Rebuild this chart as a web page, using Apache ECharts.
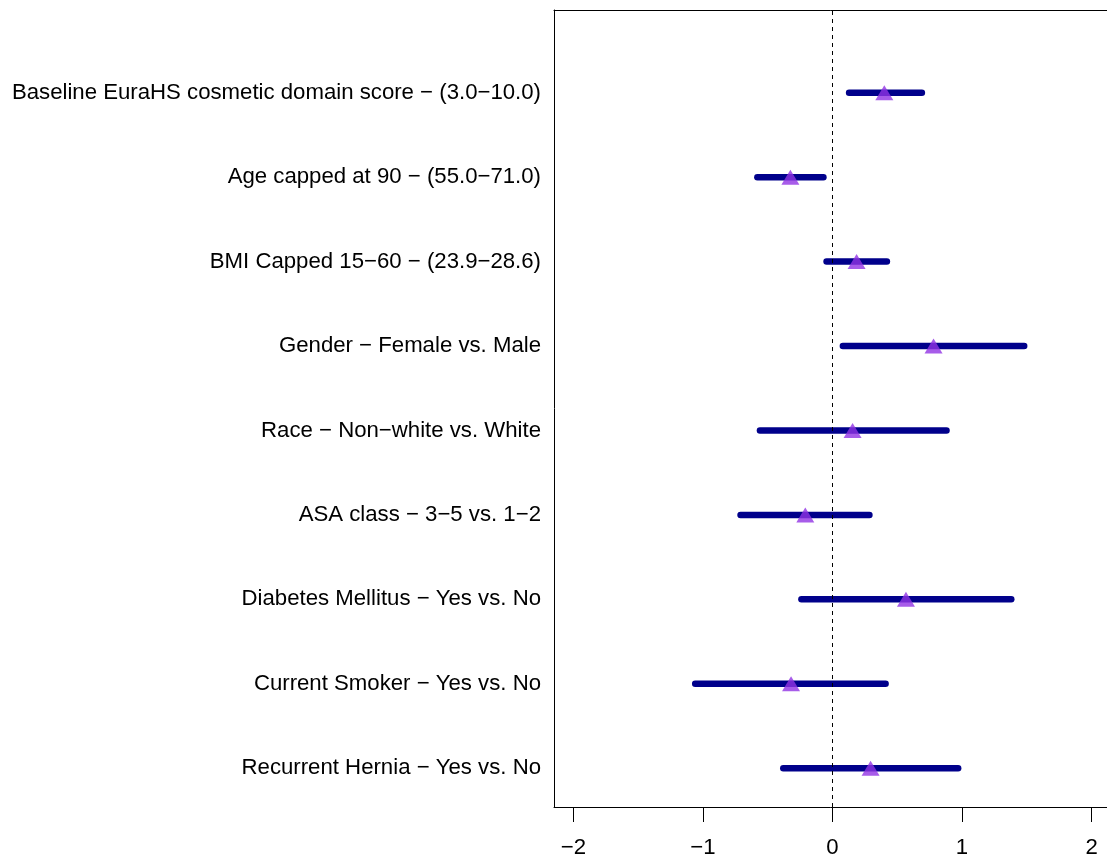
<!DOCTYPE html>
<html>
<head>
<meta charset="utf-8">
<script src="https://cdn.jsdelivr.net/npm/echarts@6/dist/echarts.min.js"></script>
<style>html,body{margin:0;padding:0;background:#fff;}#main{width:1107px;height:857px;}</style>
</head>
<body>
<div id="main"></div>
<script>
const categories = [
  "Baseline EuraHS cosmetic domain score - (3.0-10.0)",
  "Age capped at 90 - (55.0-71.0)",
  "BMI Capped 15-60 - (23.9-28.6)",
  "Gender - Female vs. Male",
  "Race - Non-white vs. White",
  "ASA class - 3-5 vs. 1-2",
  "Diabetes Mellitus - Yes vs. No",
  "Current Smoker - Yes vs. No",
  "Recurrent Hernia - Yes vs. No"
];
const estimates = [0.40, -0.325, 0.186, 0.78, 0.155, -0.21, 0.567, -0.32, 0.294];
const lowerCI  = [0.128, -0.58, -0.046, 0.08, -0.56, -0.71, -0.24, -1.06, -0.38];
const upperCI  = [0.69, -0.07, 0.42, 1.48, 0.88, 0.285, 1.38, 0.41, 0.97];
const xTicks = [-2, -1, 0, 1, 2];

const n = categories.length;
const rowPos = categories.map((c, i) => n - i);
const minus = s => String(s).replace(/-/g, '\u2212');
const labelByPos = {};
categories.forEach((c, i) => { labelByPos[rowPos[i]] = minus(c); });

const intervalData = categories.map((c, i) => [lowerCI[i], upperCI[i], rowPos[i]]);
const pointData = categories.map((c, i) => [estimates[i], rowPos[i]]);

const font = "'Liberation Sans', Arial, Helvetica, sans-serif";
const frameLine = {show: true, onZero: false, lineStyle: {color: '#000', width: 1}};
const chart = echarts.init(document.getElementById('main'), null, {renderer: 'canvas'});
chart.setOption({
  animation: false,
  backgroundColor: '#fff',
  grid: {left: 554, top: 10, bottom: 50, right: -4, show: false, outerBoundsMode: 'none', containLabel: false},
  xAxis: [{
    type: 'value', min: -2.15, max: 2.15, position: 'bottom',
    axisLine: frameLine,
    splitLine: {show: false},
    axisTick: {show: true, inside: false, length: 15, customValues: xTicks, lineStyle: {color: '#000', width: 1}},
    axisLabel: {customValues: xTicks, margin: 30, fontSize: 22.2, fontFamily: font, color: '#000', formatter: v => minus(v)}
  }, {
    type: 'value', min: -2.15, max: 2.15, position: 'top',
    axisLine: frameLine, axisTick: {show: false}, axisLabel: {show: false}, splitLine: {show: false}
  }],
  yAxis: {
    type: 'value', min: 0.54, max: 9.98, position: 'left',
    axisLine: frameLine,
    splitLine: {show: false},
    axisTick: {show: false},
    axisLabel: {customValues: rowPos, margin: 13, fontSize: 22.2, fontFamily: font, color: '#000', formatter: v => labelByPos[v] || ''}
  },
  series: [
    {
      type: 'custom',
      data: intervalData,
      encode: {x: [0, 1], y: 2},
      renderItem: function (params, api) {
        const a = api.coord([api.value(0), api.value(2)]);
        const b = api.coord([api.value(1), api.value(2)]);
        return {type: 'line', shape: {x1: a[0], y1: a[1], x2: b[0], y2: b[1]},
          style: {stroke: '#00008B', lineWidth: 6.5, lineCap: 'round'}};
      },
      z: 2
    },
    {
      type: 'scatter',
      data: pointData,
      symbol: 'triangle',
      symbolSize: [18, 15],
      itemStyle: {color: '#9133E3'},
      z: 3,
      markLine: {
        silent: true, symbol: 'none', label: {show: false},
        lineStyle: {color: '#000', type: [4, 4], width: 1},
        data: [{xAxis: 0}]
      }
    }
  ]
});
</script>
</body>
</html>
